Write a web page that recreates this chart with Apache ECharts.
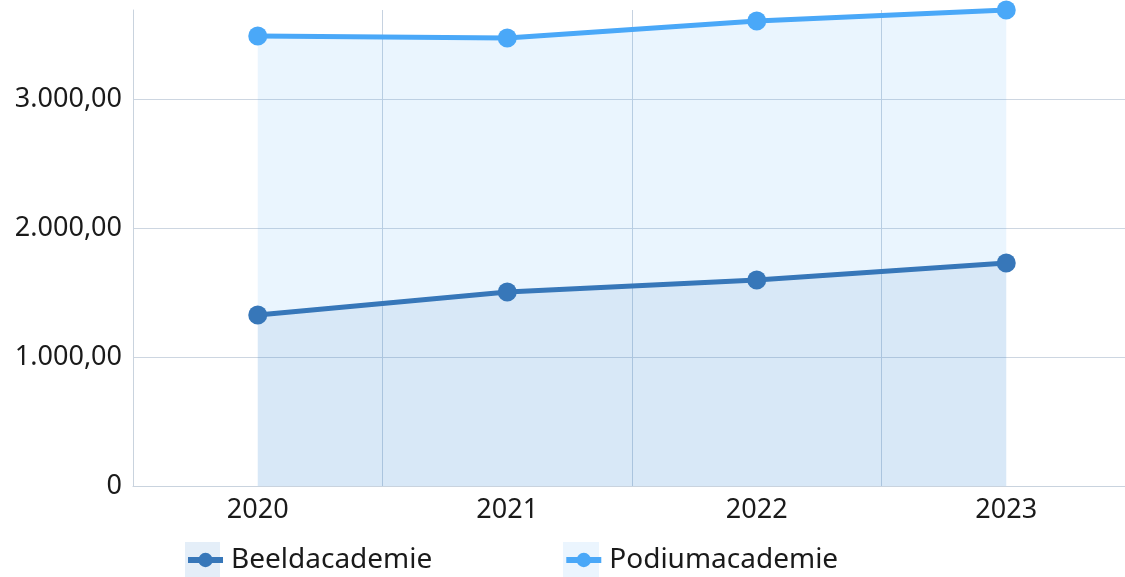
<!DOCTYPE html>
<html><head><meta charset="utf-8">
<script src="https://cdn.jsdelivr.net/npm/echarts@6/dist/echarts.min.js"></script>
<style>html,body{margin:0;padding:0;background:#fff;overflow:hidden}#c{width:1140px;height:577px}</style>
</head><body><div id="c"></div>
<script>
const categories = ['2020', '2021', '2022', '2023'];
const beeldacademie = [1326, 1504, 1597, 1729];
const podiumacademie = [3488, 3473, 3605, 3690];
const seriesNames = ['Beeldacademie', 'Podiumacademie'];

const FONT = 'Noto Sans';
function fmt(v) {
  if (v === 0) return '0';
  const parts = v.toFixed(2).split('.');
  return parts[0].replace(/\B(?=(\d{3})+(?!\d))/g, '.') + ',' + parts[1];
}
const chart = echarts.init(document.getElementById('c'), null, {renderer: 'canvas'});
chart.setOption({
  animation: false,
  textStyle: {fontFamily: FONT},
  grid: {left: 133, width: 998, top: 10, bottom: 91, containLabel: false},
  graphic: [
    {type: 'rect', left: 185, top: 542, shape: {width: 35, height: 35}, style: {fill: '#e4eef8'}, z: -1},
    {type: 'rect', left: 563, top: 542, shape: {width: 36, height: 35}, style: {fill: '#ebf5fe'}, z: -1}
  ],
  legend: {
    left: 185, top: 546, padding: 0, itemWidth: 35, itemHeight: 18, itemGap: 131,
    lineStyle: {width: 6},
    textStyle: {fontFamily: FONT, fontSize: 28, color: '#1a1a1a', padding: [0, 0, 0, 3]},
    data: seriesNames
  },
  xAxis: {
    type: 'category', data: categories, boundaryGap: true,
    axisLine: {lineStyle: {color: '#c9d3de', width: 1}},
    axisTick: {show: false},
    axisLabel: {fontFamily: FONT, fontSize: 27, color: '#1a1a1a', margin: 11},
    splitLine: {show: true, lineStyle: {color: '#c6d2e0', width: 1}}
  },
  yAxis: {
    type: 'value', min: 0, max: 3690, interval: 1000,
    axisLine: {show: true, lineStyle: {color: '#c9d3de', width: 1}},
    axisTick: {show: false},
    axisLabel: {fontFamily: FONT, fontSize: 27, color: '#1a1a1a', margin: 11, showMaxLabel: false, formatter: fmt},
    splitLine: {show: true, showMaxLine: false, lineStyle: {color: '#cdd6e1', width: 1}}
  },
  series: [
    {
      name: seriesNames[1], type: 'line', data: podiumacademie, z: 2,
      symbol: 'circle', symbolSize: 19, showSymbol: true,
      lineStyle: {color: '#4aa8f8', width: 5},
      itemStyle: {color: '#4aa8f8'},
      areaStyle: {color: 'rgba(74,168,248,0.115)', opacity: 1}
    },
    {
      name: seriesNames[0], type: 'line', data: beeldacademie, z: 3,
      symbol: 'circle', symbolSize: 19, showSymbol: true,
      lineStyle: {color: '#3777b9', width: 5},
      itemStyle: {color: '#3777b9'},
      areaStyle: {color: 'rgba(55,119,185,0.1)', opacity: 1}
    }
  ]
});
</script></body></html>
